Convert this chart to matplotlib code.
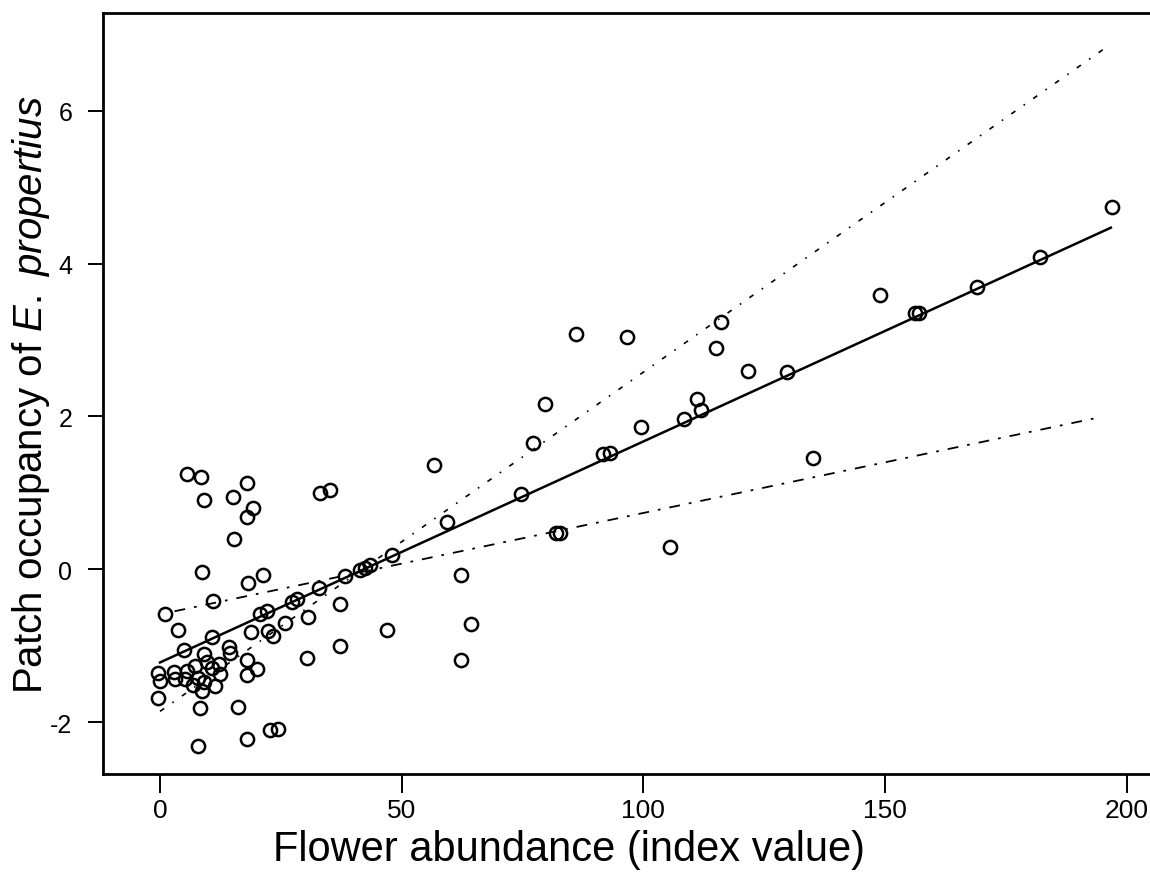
import matplotlib
matplotlib.use("Agg")
import matplotlib.pyplot as plt

plt.rcParams['mathtext.fontset'] = 'custom'
plt.rcParams['mathtext.rm'] = 'Liberation Sans'
plt.rcParams['mathtext.it'] = 'Liberation Sans:italic'

# flower abundance index vs patch occupancy
flower = [197.0, 182.1, 169.0, 156.2, 157.0, 149.0, 129.7, 121.7, 116.1, 115.0,
          111.1, 111.9, 108.4, 99.5, 91.7, 93.1, 135.1, 86.1, 96.6, 79.7,
          77.2, 74.7, 56.7, 59.4, 47.9, 81.9, 82.8, 105.5, 62.3, 64.3,
          62.3, 47.0, 37.2, 37.2, 30.7, 30.4, 25.9, 22.4, 23.4, 18.8,
          20.7, 22.1, 27.2, 28.3, 32.8, 38.3, 41.4, 42.4, 43.5, 33.1,
          35.2, 5.5, 8.5, 17.9, 9.0, 15.0, 19.2, 17.9, 15.2, 8.6,
          18.1, 21.2, 11.0, 1.0, 3.7, 10.7, 5.0, 14.3, 14.5, 17.9,
          17.9, 20.1, -0.35, 0.0, -0.35, 2.8, 3.1, 5.5, 5.2, 7.2,
          9.0, 9.7, 7.9, 9.0, 8.6, 10.7, 12.1, 12.4, 11.4, 6.9,
          8.3, 16.2, 22.8, 24.5, 17.9, 7.9]
occupancy = [4.74, 4.08, 3.70, 3.36, 3.35, 3.59, 2.58, 2.60, 3.23, 2.89,
             2.23, 2.09, 1.96, 1.86, 1.51, 1.52, 1.45, 3.08, 3.04, 2.16,
             1.65, 0.98, 1.37, 0.62, 0.18, 0.47, 0.47, 0.29, -0.07, -0.72,
             -1.19, -0.80, -0.45, -1.01, -0.63, -1.16, -0.70, -0.81, -0.87, -0.82,
             -0.59, -0.55, -0.43, -0.39, -0.24, -0.09, -0.01, 0.01, 0.05, 1.00,
             1.04, 1.24, 1.21, 1.13, 0.91, 0.94, 0.80, 0.68, 0.40, -0.04,
             -0.18, -0.07, -0.41, -0.59, -0.79, -0.89, -1.06, -1.02, -1.09, -1.19,
             -1.39, -1.31, -1.36, -1.46, -1.68, -1.35, -1.44, -1.33, -1.44, -1.27,
             -1.11, -1.22, -1.42, -1.48, -1.59, -1.29, -1.24, -1.37, -1.53, -1.51,
             -1.81, -1.80, -2.10, -2.09, -2.22, -2.32]

# fitted line and the two bounding lines
fit_x = [0, 196.7]
fit_y = [-1.22, 4.47]
upper_x = [0, 195.5]
upper_y = [-1.86, 6.82]
lower_x = [3, 194.5]
lower_y = [-0.55, 1.99]

xticks = [0, 50, 100, 150, 200]
yticks = [-2, 0, 2, 4, 6]

fig = plt.figure(figsize=(11.5, 8.79), dpi=100)
ax = fig.add_axes([103 / 1150, 1 - 775 / 879, 1 - 103 / 1150, (775 - 14) / 879])

ax.plot(flower, occupancy, 'o', ms=9.5, mfc='none', mec='black', mew=1.8, zorder=3)
ax.plot(fit_x, fit_y, '-', color='black', lw=1.8)
ax.plot(upper_x, upper_y, color='black', lw=1.2, dashes=(3, 6, 1, 6))
ax.plot(lower_x, lower_y, color='black', lw=1.3, dashes=(6, 5, 1.5, 5))

ax.set_xlim(-11.8, 204.8)
ax.set_ylim(-2.68, 7.28)
ax.set_xticks(xticks)
ax.set_yticks(yticks)
tick_font = ['Liberation Sans Narrow', 'Liberation Sans']
ax.set_xticklabels([str(t) for t in xticks], family=tick_font, fontsize=19)
ax.set_yticklabels([str(t) for t in yticks], family=tick_font, fontsize=18)
ax.tick_params(axis='x', direction='out', length=14, width=1.4, pad=3)
ax.tick_params(axis='y', direction='out', length=11, width=1.4, pad=11)

for side in ['left', 'bottom', 'top']:
    ax.spines[side].set_linewidth(2.0)
ax.spines['right'].set_visible(False)

ax.set_xlabel('Flower abundance (index value)', fontsize=30, family='Liberation Sans')
ax.xaxis.set_label_coords(0.445, -0.072)
ax.set_ylabel(r'Patch occupancy of $\mathit{E.}\ \mathit{propertius}$', fontsize=29,
              family='Liberation Sans')
ax.yaxis.set_label_coords(-0.049, 0.5)

fig.savefig('out.png', dpi=100)
